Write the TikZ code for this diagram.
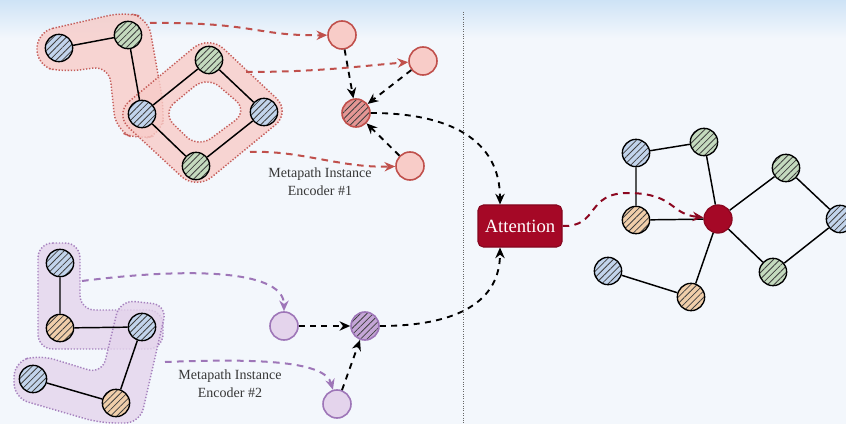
\documentclass[tikz,border=0pt]{standalone}
\usepackage{fontspec}
\setmainfont{Liberation Serif}
\usetikzlibrary{arrows.meta,patterns.meta}
\definecolor{nodeblue}{RGB}{194,212,236}
\definecolor{nodegreen}{RGB}{196,218,190}
\definecolor{nodeorange}{RGB}{240,206,170}
\definecolor{pinkfill}{RGB}{248,204,200}
\definecolor{pinkmid}{RGB}{228,150,148}
\definecolor{pinkline}{RGB}{192,80,76}
\definecolor{purplefill}{RGB}{228,212,236}
\definecolor{purplemid}{RGB}{196,166,214}
\definecolor{purpleline}{RGB}{158,118,184}
\definecolor{attnred}{RGB}{165,8,38}
\definecolor{bgblue}{RGB}{243,247,252}
\definecolor{topblue}{RGB}{206,227,246}
\definecolor{labelgray}{RGB}{55,55,55}

\begin{document}
\begin{tikzpicture}[x=0.75pt,y=0.75pt,yscale=-1,xscale=1,
  hatched/.style={preaction={fill=#1},pattern={Lines[angle=45,distance=3.4pt,line width=0.6pt]},pattern color=black!75},
  gnode/.style={circle,draw=black,line width=1pt,minimum size=20.5pt,inner sep=0pt,hatched=#1},
  pinknode/.style={circle,draw=pinkline,line width=1.2pt,fill=pinkfill,minimum size=21pt,inner sep=0pt},
  purplenode/.style={circle,draw=purpleline,line width=1.2pt,fill=purplefill,minimum size=21pt,inner sep=0pt},
  aggnode/.style={circle,draw=#1line,line width=1.2pt,minimum size=21pt,inner sep=0pt,hatched=#1mid},
  target/.style={circle,draw=attnred!85!black,line width=1pt,fill=attnred,minimum size=21pt,inner sep=0pt},
  link/.style={draw=black,line width=1.1pt},
  redhull/.style={fill=pinkfill,fill opacity=0.8,draw=pinkline,draw opacity=0.9,line width=1.1pt,dash pattern=on 1pt off 1.3pt,even odd rule},
  purplehull/.style={fill=purplefill,fill opacity=0.8,draw=purpleline,draw opacity=0.9,line width=1.1pt,dash pattern=on 1pt off 1.3pt,even odd rule},
  redflow/.style={draw=pinkline,line width=1.5pt,dash pattern=on 5pt off 4pt,-{Stealth[length=8pt,width=7pt]}},
  purpleflow/.style={draw=purpleline,line width=1.5pt,dash pattern=on 5pt off 4pt,-{Stealth[length=8pt,width=7pt]}},
  blackflow/.style={draw=black,line width=1.4pt,dash pattern=on 4.5pt off 4pt,-{Stealth[length=8pt,width=7pt]}},
  enclabel/.style={align=center,text=labelgray,font=\fontsize{10.5}{13.5}\selectfont,inner sep=0pt},
  attnbox/.style={draw=attnred!80!black,line width=0.8pt,fill=attnred,rounded corners=4pt,minimum width=63pt,minimum height=31.5pt,text=white,font=\fontsize{14}{16}\selectfont}]

  \useasboundingbox (0,0) rectangle (846,424);
  %Background
  \fill[bgblue] (0,0) rectangle (846,424);
  \shade[top color=topblue,bottom color=bgblue] (0,0) rectangle (846,38);

  %Shape: Metapath hulls (top)
  \path[redhull,rounded corners=12pt] (37,32) -- (124,12) -- (148,18) -- (164,108) -- (162,134) -- (138,140) -- (116,130) -- (109,66) -- (64,72) -- (37,66) -- cycle;
  \path[redhull,rounded corners=15pt] (114,114) -- (209,35) -- (291,112) -- (196,190) -- cycle
    [rounded corners=12pt] (162,113) -- (207,76) -- (248,111) -- (198,148) -- cycle;
  %Shape: Metapath hulls (bottom)
  \path[purplehull,rounded corners=11pt] (38,243) -- (80,243) -- (80,310) -- (163,310) -- (163,349) -- (38,349) -- cycle;
  \path[purplehull,rounded corners=11pt] (120,300) -- (167,305) -- (140,423) -- (100,423) -- (14,398) -- (14,362) -- (40,355) -- (102,374) -- cycle;

  %Shape: Circle (graph 1)
  \node[gnode=nodeblue]  (a1) at (59,48) {};
  \node[gnode=nodegreen] (a2) at (128,35) {};
  \node[gnode=nodeblue]  (a3) at (142,114) {};
  \node[gnode=nodegreen] (a4) at (209,60) {};
  \node[gnode=nodeblue]  (a5) at (264,112) {};
  \node[gnode=nodegreen] (a6) at (196,166) {};
  \draw[link] (a1) -- (a2) (a2) -- (a3) (a3) -- (a4) (a4) -- (a5) (a5) -- (a6) (a6) -- (a3);

  %Shape: Circle (graph 2)
  \node[gnode=nodeblue]   (c1) at (60,263) {};
  \node[gnode=nodeorange] (c2) at (60,328) {};
  \node[gnode=nodeblue]   (c3) at (142,327) {};
  \node[gnode=nodeblue]   (c4) at (33,379) {};
  \node[gnode=nodeorange] (c5) at (116,403) {};
  \draw[link] (c1) -- (c2) (c2) -- (c3) (c3) -- (c5) (c5) -- (c4);

  %Shape: Circle (encoder 1)
  \node[pinknode] (p1) at (342,35) {};
  \node[pinknode] (p2) at (423,61) {};
  \node[pinknode] (p3) at (410,166) {};
  \node[aggnode=pink] (pagg) at (356,113) {};
  %Shape: Circle (encoder 2)
  \node[purplenode] (q1) at (284,326) {};
  \node[purplenode] (q2) at (337,404) {};
  \node[aggnode=purple] (qagg) at (365,326) {};

  %Curve Lines (instances to encoders)
  \coordinate (h1out) at (150,23);
  \coordinate (h2out) at (246,72);
  \coordinate (h3out) at (250,152);
  \coordinate (g1out) at (82,281);
  \coordinate (g2out) at (165,362);
  \draw[redflow] (h1out) .. controls (255,22) and (255,36) .. (p1);
  \draw[redflow] (h2out) .. controls (320,72) and (360,66) .. (p2);
  \draw[redflow] (h3out) .. controls (300,150) and (340,168) .. (p3);
  \draw[purpleflow] (g1out) .. controls (200,266) and (284,272) .. (q1);
  \draw[purpleflow] (g2out) .. controls (265,358) and (325,362) .. (q2);

  %Straight Lines (encoder inputs)
  \draw[blackflow] (p1) -- (pagg);
  \draw[blackflow] (p2) -- (pagg);
  \draw[blackflow] (p3) -- (pagg);
  \draw[blackflow] (q1) -- (qagg);
  \draw[blackflow] (q2) -- (qagg);

  %Straight Lines (separator)
  \draw[black!60,line width=0.6pt,dash pattern=on 0.8pt off 1pt] (463,12) -- (463,424);

  % Text Node
  \node[attnbox] (attn) at (520,226) {Attention};
  \draw[blackflow] (pagg) .. controls (450,113) and (500,140) .. ([xshift=-15pt]attn.north);
  \draw[blackflow] (qagg) .. controls (460,326) and (500,300) .. ([xshift=-15pt]attn.south);

  %Shape: Circle (result graph)
  \node[target] (r0) at (718,219) {};
  \node[gnode=nodeblue]   (r1) at (636,153) {};
  \node[gnode=nodegreen]  (r2) at (704,142) {};
  \node[gnode=nodeorange] (r3) at (636,220) {};
  \node[gnode=nodegreen]  (r4) at (786,168) {};
  \node[gnode=nodeblue]   (r5) at (840,219) {};
  \node[gnode=nodegreen]  (r6) at (773,272) {};
  \node[gnode=nodeblue]   (r7) at (608,271) {};
  \node[gnode=nodeorange] (r8) at (691,297) {};
  \draw[link] (r1) -- (r2) (r1) -- (r3) (r3) -- (r0) (r2) -- (r0) (r0) -- (r4) (r4) -- (r5) (r5) -- (r6) (r6) -- (r0) (r0) -- (r8) (r8) -- (r7);
  \draw[redflow,draw=attnred!85!black] (attn.east) .. controls (600,227) and (585,192) .. (630,193) .. controls (675,194) and (670,214) .. (r0);

  % Text Node
  \node[enclabel] (enc1) at (320,182) {Metapath Instance\\Encoder \#1};
  % Text Node
  \node[enclabel] (enc2) at (230,384) {Metapath Instance\\Encoder \#2};
\end{tikzpicture}
\end{document}
